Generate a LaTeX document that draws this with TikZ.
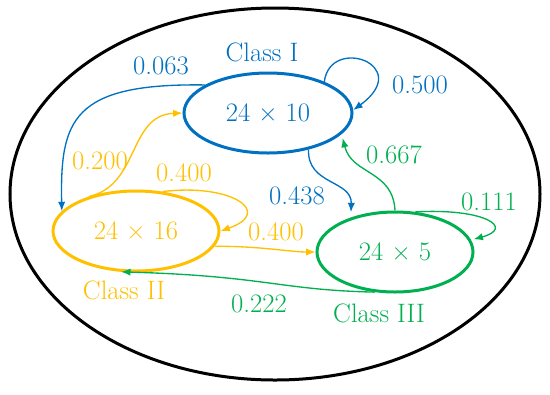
\documentclass[tikz,border=0pt]{standalone}
\usepackage{fontspec}
\usetikzlibrary{arrows.meta,shapes.geometric}
\definecolor{clsblue}{RGB}{0,112,192}
\definecolor{clsgold}{RGB}{255,192,0}
\definecolor{clsgreen}{RGB}{0,176,80}
\begin{document}
\begin{tikzpicture}
    [x=0.75pt, y=-0.75pt,
    font=\fontsize{20}{23}\selectfont,
    ->-/.style={line width=1pt, -{Latex[length=7pt,width=5.5pt]}},
    class/.style={ellipse, draw, line width=2.25pt, inner sep=0pt, minimum height=60pt},
    prob/.style={inner sep=1pt}]
    \useasboundingbox (0,0) rectangle (550,394);
        %% outer set
    \draw[line width=2.25pt] (275,194) ellipse [x radius=265, y radius=186];

        %% classes
    \node[class, clsblue, minimum width=126pt, label={[clsblue, xshift=-4.5pt, label distance=4pt]above:Class I}] (C1) at (268,113) {24 × 10};
    \node[class, clsgold, minimum width=124.5pt, label={[clsgold, xshift=-9pt, label distance=3pt]below:Class II}] (C2) at (136,231) {24 × 16};
    \node[class, clsgreen, minimum width=117pt, label={[clsgreen, xshift=-12pt, label distance=4pt]below:Class III}] (C3) at (395,252) {24 × 5};

        %% from class I
    \draw[->-, clsblue] (C1.156) .. controls (72,83) and (60,120) .. (C2.165);
    \draw[->-, clsblue] (C1.29) .. controls (330,35) and (415,65) .. (C1.2);
    \draw[->-, clsblue, shorten >=4pt] (C1.318) .. controls (307,185) and (352,180) .. (C3.142);
    \node[prob, clsblue] (p12) at (161,66) {0.063};
    \node[prob, clsblue] (p11) at (420,85) {0.500};
    \node[prob, clsblue] (p13) at (297,196) {0.438};

        %% from class II
    \draw[->-, clsgold] (C2.144) .. controls (140,185) and (128,115) .. (C1.west);
    \draw[->-, clsgold] (C2.56) .. controls (230,183) and (275,212) .. (C2.east);
    \draw[->-, clsgold] (C2.349) .. controls (260,246) and (290,252) .. (C3.west);
    \node[prob, clsgold] (p21) at (100,161) {0.200};
    \node[prob, clsgold] (p22) at (184,173) {0.400};
    \node[prob, clsgold] (p23) at (276,232) {0.400};

        %% from class III
    \draw[->-, clsgreen, shorten >=3pt] (C3.north) .. controls (393,170) and (352,175) .. (C1.344);
    \draw[->-, clsgreen, shorten >=2pt] (C3.63) .. controls (485,208) and (515,228) .. (C3.9);
    \draw[->-, clsgreen] (C3.243) .. controls (280,290) and (265,276) .. (C2.250);
    \node[prob, clsgreen] (p31) at (394,155) {0.667};
    \node[prob, clsgreen] (p33) at (489,202) {0.111};
    \node[prob, clsgreen] (p32) at (259,304) {0.222};
\end{tikzpicture}
\end{document}
